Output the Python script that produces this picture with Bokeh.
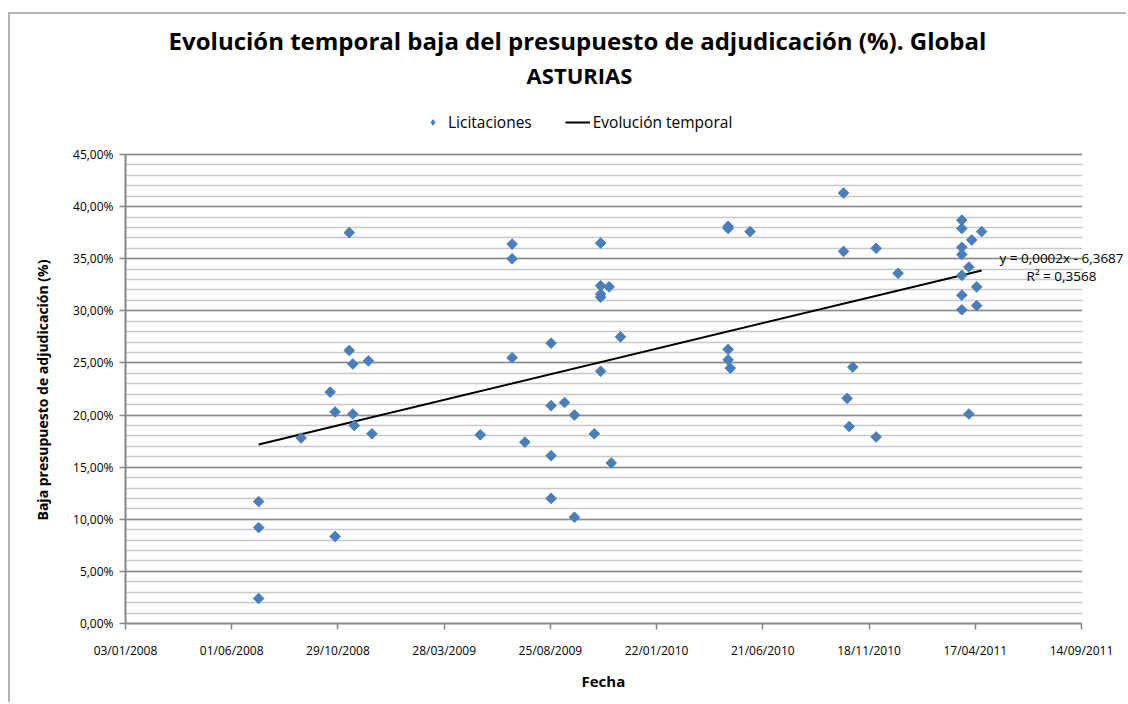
import numpy as np
import pandas as pd
from bokeh.plotting import figure
from bokeh.models import (Range1d, FixedTicker, DatetimeTickFormatter, Label, Title,
                          Legend, LegendItem, BoxAnnotation, ColumnDataSource)
from bokeh.embed import file_html
from bokeh.resources import INLINE

# ---------------- data ----------------
titulo_1 = "Evolución temporal baja del presupuesto de adjudicación (%). Global"
titulo_2 = "ASTURIAS"
eje_x = "Fecha"
eje_y = "Baja presupuesto de adjudicación (%)"
serie_puntos = "Licitaciones"
serie_linea = "Evolución temporal"
ecuacion = "y = 0,0002x - 6,3687"
r_cuadrado = "R² = 0,3568"

fecha = [
    "2008-07-09", "2008-07-09", "2008-07-09",
    "2008-09-07",
    "2008-10-18",
    "2008-10-25", "2008-10-25",
    "2008-11-14", "2008-11-14",
    "2008-11-19", "2008-11-19", "2008-11-21",
    "2008-12-11",
    "2008-12-16",
    "2009-05-18",
    "2009-07-02", "2009-07-02", "2009-07-02",
    "2009-07-20",
    "2009-08-26", "2009-08-26", "2009-08-26", "2009-08-26",
    "2009-09-14",
    "2009-09-28", "2009-09-28",
    "2009-10-26",
    "2009-11-04", "2009-11-04", "2009-11-04", "2009-11-04", "2009-11-04",
    "2009-11-16",
    "2009-11-19",
    "2009-12-02",
    "2010-05-03", "2010-05-03", "2010-05-03", "2010-05-03", "2010-05-06",
    "2010-06-03",
    "2010-10-13", "2010-10-13",
    "2010-10-18", "2010-10-21", "2010-10-26",
    "2010-11-28", "2010-11-28",
    "2010-12-29",
    "2011-03-29", "2011-03-29", "2011-03-29", "2011-03-29", "2011-03-29", "2011-03-29", "2011-03-29",
    "2011-04-08", "2011-04-08",
    "2011-04-12",
    "2011-04-19", "2011-04-19",
    "2011-04-26",
]
baja = [
    11.7, 9.2, 2.4,
    17.8,
    22.2,
    20.3, 8.35,
    37.5, 26.2,
    24.9, 20.1, 19.0,
    25.2,
    18.2,
    18.1,
    36.4, 35.0, 25.5,
    17.4,
    26.9, 20.9, 16.1, 12.0,
    21.2,
    20.0, 10.2,
    18.2,
    36.5, 32.4, 31.6, 31.3, 24.2,
    32.3,
    15.4,
    27.5,
    38.1, 37.9, 26.3, 25.3, 24.5,
    37.6,
    41.3, 35.7,
    21.6, 18.9, 24.6,
    36.0, 17.9,
    33.6,
    38.7, 37.9, 36.1, 35.4, 33.4, 31.5, 30.1,
    34.2, 20.1,
    36.8,
    32.3, 30.5,
    37.6,
]
x_tick_labels = ["03/01/2008", "01/06/2008", "29/10/2008", "28/03/2009", "25/08/2009",
                 "22/01/2010", "21/06/2010", "18/11/2010", "17/04/2011", "14/09/2011"]
y_ticks = [0, 5, 10, 15, 20, 25, 30, 35, 40, 45]
y_tick_labels = ["0,00%", "5,00%", "10,00%", "15,00%", "20,00%", "25,00%",
                 "30,00%", "35,00%", "40,00%", "45,00%"]
y_minor = list(range(0, 46))

# ---------------- derived ----------------
fx = pd.to_datetime(fecha)
xt = pd.to_datetime(x_tick_labels, dayfirst=True)
to_ms = lambda d: d.value / 1e6
DAY = 86400000.0
xt_ms = [to_ms(d) for d in xt]
fx_ms = np.array([to_ms(d) for d in fx])

src = ColumnDataSource(dict(x=fx, y=baja))
# one real data point, used only as the legend swatch (drawn hidden under its own marker)
key_src = ColumnDataSource(dict(x=fx[:1], y=baja[:1]))

# linear trend fitted on the data (days)
days = (fx_ms - fx_ms.min()) / DAY
m, b = np.polyfit(days, np.array(baja), 1)
tx = [fx.min(), fx.max()]
ty = [b, m * days.max() + b]

FONT = "Open Sans"
BLUE = "#4a7ebb"

# layout: canvas 1118 x 690 placed at page (10, 14); plot area 956 x 469
W, H = 1118, 690
# extra room inside the frame, right of the axis end and above 45 %, for texts
x_extra_days = 66.4
y_extra = 13.43

p = figure(width=W, height=H,
           min_border_left=115, min_border_right=0,
           min_border_top=0, min_border_bottom=81,
           x_axis_type="datetime",
           x_range=Range1d(xt_ms[0], xt_ms[-1] + x_extra_days * DAY),
           y_range=Range1d(0, y_ticks[-1] + y_extra),
           output_backend="svg", toolbar_location=None,
           background_fill_color="white", border_fill_color="white",
           styles={"margin-left": "8px", "margin-top": "12px",
                   "border-left": "2px solid #b4b4b4",
                   "border-top": "2px solid #b4b4b4"})
p.outline_line_color = None

# grid
p.xgrid.visible = False
p.ygrid.ticker = FixedTicker(ticks=y_ticks, minor_ticks=y_minor)
p.ygrid.grid_line_color = "#8a8a8a"
p.ygrid.grid_line_width = 1.5
p.ygrid.minor_grid_line_color = "#c8c8c8"
p.ygrid.minor_grid_line_width = 1.5

# axes
p.xaxis.ticker = FixedTicker(ticks=xt_ms, minor_ticks=[])
p.xaxis.formatter = DatetimeTickFormatter(days="%d/%m/%Y", months="%d/%m/%Y",
                                          years="%d/%m/%Y", hours="%d/%m/%Y",
                                          context=None)
p.xaxis.bounds = (xt_ms[0], xt_ms[-1])
p.yaxis.ticker = FixedTicker(ticks=y_ticks, minor_ticks=[])
p.yaxis.bounds = (y_ticks[0], y_ticks[-1])
p.yaxis.major_label_overrides = {t: l for t, l in zip(y_ticks, y_tick_labels)}
for ax in (p.xaxis[0], p.yaxis[0]):
    ax.axis_line_color = "#868686"
    ax.axis_line_width = 2
    ax.major_tick_line_color = "#868686"
    ax.major_tick_line_width = 1.5
    ax.major_tick_out = 6
    ax.major_tick_in = 0
    ax.minor_tick_line_color = None
    ax.major_label_text_font = FONT
    ax.major_label_text_font_size = "12px"
    ax.major_label_text_color = "black"
p.xaxis.major_label_standoff = 12
p.yaxis.major_label_standoff = 6

# axis titles (as panel titles so they sit on the plot area, not the padded frame)
p.add_layout(Title(text=eje_x, align="left", offset=456, standoff=14,
                   text_font=FONT, text_font_size="15px", text_font_style="bold",
                   text_color="black"), "below")
p.add_layout(Title(text=eje_y, align="left", offset=103, standoff=37,
                   text_font=FONT, text_font_size="14px", text_font_style="bold",
                   text_color="black"), "left")

# hide gridlines beyond the end of the x axis
p.add_layout(BoxAnnotation(left=xt_ms[-1] + DAY, fill_color="white", fill_alpha=1,
                           line_color=None))

# glyphs
r_line = p.line(tx, ty, line_color="black", line_width=2)
r_key = p.scatter("x", "y", source=key_src, marker="diamond", size=9,
                  fill_color=BLUE, line_color=BLUE)
p.scatter("x", "y", source=src, marker="square", angle=np.pi / 4, size=7.5,
          fill_color=BLUE, line_color=BLUE)

legend = Legend(items=[LegendItem(label=serie_puntos, renderers=[r_key]),
                       LegendItem(label=serie_linea, renderers=[r_line])],
                orientation="horizontal", location=(295, 490),
                border_line_color=None, background_fill_alpha=0,
                label_text_font=FONT, label_text_font_size="15.5px",
                label_text_color="black",
                glyph_width=25, glyph_height=14, label_standoff=3, spacing=33,
                padding=0, margin=0)
p.add_layout(legend, "center")

# titles
p.add_layout(Label(x=565, y=24, x_units="canvas", y_units="canvas", text=titulo_1,
                   text_align="center", text_baseline="middle", text_color="black",
                   text_font=FONT, text_font_style="bold", text_font_size="24px"))
p.add_layout(Label(x=567, y=58, x_units="canvas", y_units="canvas", text=titulo_2,
                   text_align="center", text_baseline="middle", text_color="black",
                   text_font=FONT, text_font_style="bold", text_font_size="22px"))
# trend equation
p.add_layout(Label(x=1049, y=241, x_units="canvas", y_units="canvas", text=ecuacion,
                   text_align="center", text_baseline="middle", text_color="black",
                   text_font=FONT, text_font_size="13.5px"))
p.add_layout(Label(x=1049, y=259, x_units="canvas", y_units="canvas", text=r_cuadrado,
                   text_align="center", text_baseline="middle", text_color="black",
                   text_font=FONT, text_font_size="13.5px"))

open("out.html", "w").write(file_html(p, INLINE))
